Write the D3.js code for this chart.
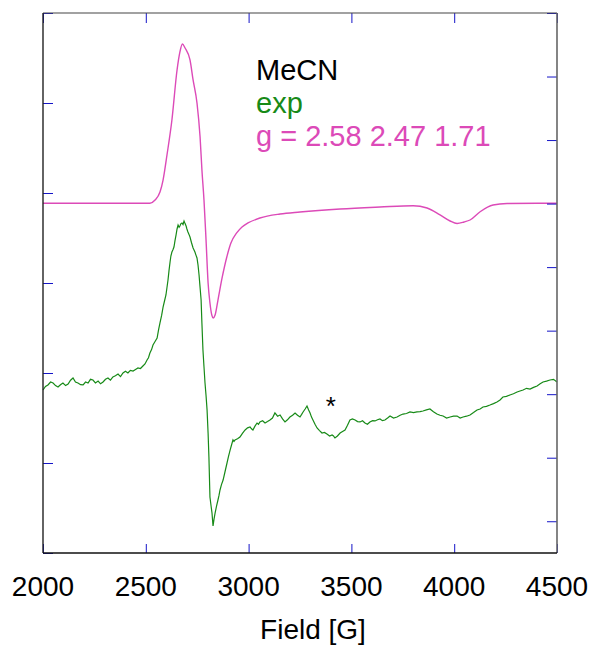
<!DOCTYPE html>
<html><head><meta charset="utf-8">
<script src="https://cdn.jsdelivr.net/npm/d3@7"></script>
<style>html,body{margin:0;padding:0;background:#fff;}svg{display:block;font-family:"Liberation Sans",Arial,sans-serif;}</style>
</head><body>
<svg id="c" width="593" height="647"></svg>
<script>
// ---- data ----
const xTicks = [2000, 2500, 3000, 3500, 4000, 4500];
const leftTicks = [0, 1, 2, 3, 4, 5, 6];
const rightTicks = [0, 1, 2, 3, 4, 5, 6, 7, 8];
const legendLines = ["MeCN", "exp", "g = 2.58 2.47 1.71"];
const xLabel = "Field [G]";
const markerField = 3400; // "*" annotation

// simulated spectrum (field G, intensity)
const simField = [2000,2520,2545,2569,2584,2603,2627,2652,2666,2678,2691,2715,2730,2749,2764,2773,2783,2793,2803,2812,2821,2828,2837,2851,2871,2894,2914,2942,2968,2997,3055,3153,3250,3445,3639,3800,3868,3931,3980,4014,4048,4077,4126,4189,4257,4500];
const simVal   = [3.886,3.886,3.922,4.011,4.144,4.422,4.811,5.367,5.567,5.656,5.611,5.478,5.256,5.0,4.622,4.256,3.922,3.478,3.0,2.778,2.644,2.611,2.644,2.811,3.056,3.289,3.444,3.556,3.622,3.667,3.722,3.767,3.789,3.822,3.844,3.859,3.833,3.756,3.689,3.661,3.678,3.7,3.792,3.867,3.883,3.886];

// experimental spectrum (field G, intensity)
const expField = [2000,2012,2024,2037,2049,2061,2073,2085,2097,2110,2122,2134,2146,2158,2170,2183,2195,2207,2219,2231,2243,2255,2268,2280,2292,2304,2316,2328,2340,2352,2365,2377,2389,2401,2413,2425,2438,2450,2462,2474,2486,2496,2506,2513,2520,2528,2535,2545,2555,2562,2569,2577,2584,2591,2598,2603,2608,2613,2618,2622,2627,2632,2637,2642,2647,2652,2657,2662,2666,2671,2676,2681,2686,2691,2696,2700,2705,2710,2715,2722,2730,2734,2739,2744,2749,2754,2759,2764,2769,2773,2778,2783,2788,2793,2798,2803,2807,2812,2817,2822,2827,2832,2837,2844,2851,2856,2861,2868,2876,2885,2895,2902,2910,2917,2924,2929,2934,2946,2958,2970,2983,2995,3007,3014,3021,3031,3041,3048,3055,3068,3080,3092,3104,3116,3128,3141,3153,3165,3177,3189,3201,3214,3226,3238,3250,3258,3265,3275,3284,3292,3299,3306,3313,3323,3333,3345,3357,3369,3381,3394,3406,3413,3420,3432,3445,3457,3469,3481,3493,3505,3518,3530,3542,3554,3566,3578,3590,3603,3615,3627,3639,3651,3663,3676,3688,3705,3722,3737,3751,3768,3785,3802,3819,3834,3848,3865,3882,3899,3916,3931,3946,3963,3980,3997,4014,4029,4043,4060,4077,4094,4111,4126,4140,4157,4174,4191,4208,4223,4237,4254,4271,4288,4306,4320,4335,4352,4369,4386,4403,4418,4432,4449,4466,4483,4500];
const expVal   = [1.811,1.85,1.867,1.9,1.889,1.86,1.844,1.87,1.889,1.86,1.878,1.92,1.944,1.9,1.889,1.87,1.867,1.9,1.889,1.93,1.922,1.89,1.911,1.88,1.9,1.93,1.944,1.92,1.956,1.97,1.989,1.96,2.0,2.02,2.0,2.03,2.022,2.04,2.056,2.05,2.078,2.1,2.144,2.17,2.222,2.26,2.311,2.35,2.389,2.48,2.556,2.64,2.733,2.8,2.867,2.95,3.033,3.14,3.233,3.3,3.344,3.37,3.4,3.47,3.533,3.6,3.644,3.62,3.633,3.66,3.667,3.65,3.689,3.66,3.633,3.6,3.567,3.54,3.511,3.45,3.389,3.37,3.344,3.31,3.278,3.2,3.089,2.95,2.811,2.55,2.256,2.07,1.889,1.75,1.589,1.33,1.067,0.622,0.53,0.444,0.3,0.38,0.444,0.52,0.589,0.64,0.7,0.76,0.811,0.9,1.0,1.07,1.144,1.2,1.256,1.24,1.256,1.27,1.289,1.33,1.367,1.39,1.4,1.38,1.367,1.41,1.444,1.43,1.456,1.47,1.444,1.46,1.478,1.5,1.556,1.52,1.533,1.49,1.456,1.48,1.511,1.53,1.556,1.53,1.511,1.54,1.567,1.6,1.633,1.59,1.556,1.51,1.478,1.43,1.389,1.36,1.333,1.34,1.322,1.3,1.311,1.3,1.278,1.3,1.333,1.35,1.367,1.42,1.478,1.49,1.478,1.46,1.456,1.47,1.444,1.43,1.456,1.47,1.467,1.48,1.489,1.47,1.478,1.5,1.522,1.5,1.511,1.53,1.544,1.55,1.567,1.56,1.567,1.57,1.578,1.59,1.6,1.57,1.544,1.53,1.522,1.5,1.511,1.52,1.522,1.5,1.511,1.52,1.533,1.56,1.589,1.6,1.622,1.63,1.644,1.66,1.678,1.7,1.733,1.74,1.756,1.77,1.789,1.8,1.811,1.83,1.822,1.84,1.856,1.88,1.9,1.91,1.922,1.93,1.9];

// ---- chart ----
const svg = d3.select("#c");
const L = 43, R = 557, T = 13, B = 553;
const x = d3.scaleLinear().domain([2000, 4500]).range([L, R]);
const yL = d3.scaleLinear().domain([0, 6]).range([B, T]);
const yR = d3.scaleLinear().domain([-0.5, 8]).range([B, T]);
const tickCol = "#1414c8";

// curves
const simData = simField.map((f, i) => [f, simVal[i]]);
const expData = expField.map((f, i) => [f, expVal[i]]);
svg.append("path").datum(simData)
  .attr("fill", "none").attr("stroke", "#dc4ab8").attr("stroke-width", 1.4)
  .attr("d", d3.line().x(d => x(d[0])).y(d => yL(d[1])).curve(d3.curveMonotoneX));
svg.append("path").datum(expData)
  .attr("fill", "none").attr("stroke", "#178a17").attr("stroke-width", 1.2)
  .attr("d", d3.line().x(d => x(d[0])).y(d => yL(d[1])));

// axes ticks (inward)
svg.append("g").attr("transform", `translate(0,${B})`)
  .call(d3.axisTop(x).tickValues(xTicks).tickSize(9).tickFormat(""))
  .call(g => g.select(".domain").remove())
  .selectAll("line").attr("stroke", tickCol);
svg.append("g").attr("transform", `translate(0,${T})`)
  .call(d3.axisBottom(x).tickValues(xTicks).tickSize(10).tickFormat(""))
  .call(g => g.select(".domain").remove())
  .selectAll("line").attr("stroke", tickCol);
svg.append("g").attr("transform", `translate(${L},0)`)
  .call(d3.axisRight(yL).tickValues(leftTicks).tickSize(10).tickFormat(""))
  .call(g => g.select(".domain").remove())
  .selectAll("line").attr("stroke", tickCol);
svg.append("g").attr("transform", `translate(${R},0)`)
  .call(d3.axisLeft(yR).tickValues(rightTicks).tickSize(10).tickFormat(""))
  .call(g => g.select(".domain").remove())
  .selectAll("line").attr("stroke", tickCol);

// frame
svg.append("line").attr("x1", L).attr("x2", R).attr("y1", T).attr("y2", T).attr("stroke", "#444").attr("stroke-width", 1.2);
svg.append("line").attr("x1", R).attr("x2", R).attr("y1", T).attr("y2", B).attr("stroke", "#666").attr("stroke-width", 1.6);
svg.append("line").attr("x1", L).attr("x2", L).attr("y1", T).attr("y2", B).attr("stroke", "#222").attr("stroke-width", 1.4);
svg.append("line").attr("x1", L).attr("x2", R).attr("y1", B).attr("y2", B).attr("stroke", "#111").attr("stroke-width", 1.6);

// tick labels
svg.append("g").selectAll("text").data(xTicks).join("text")
  .attr("x", d => x(d)).attr("y", 596).attr("text-anchor", "middle")
  .attr("font-size", 28).attr("fill", "#000").text(d => d);
svg.append("text").attr("x", 313).attr("y", 639).attr("text-anchor", "middle")
  .attr("font-size", 28).attr("fill", "#000").text(xLabel);

// legend text
const legCols = ["#000", "#178a17", "#dc4ab8"];
svg.append("g").selectAll("text").data(legendLines).join("text")
  .attr("x", 256).attr("y", (d, i) => 80 + i * 33)
  .attr("font-size", 29).attr("fill", (d, i) => legCols[i]).text(d => d);

// asterisk
svg.append("text").attr("x", x(markerField)).attr("y", 415).attr("text-anchor", "middle")
  .attr("font-size", 26).attr("fill", "#000").text("*");
</script>
</body></html>
